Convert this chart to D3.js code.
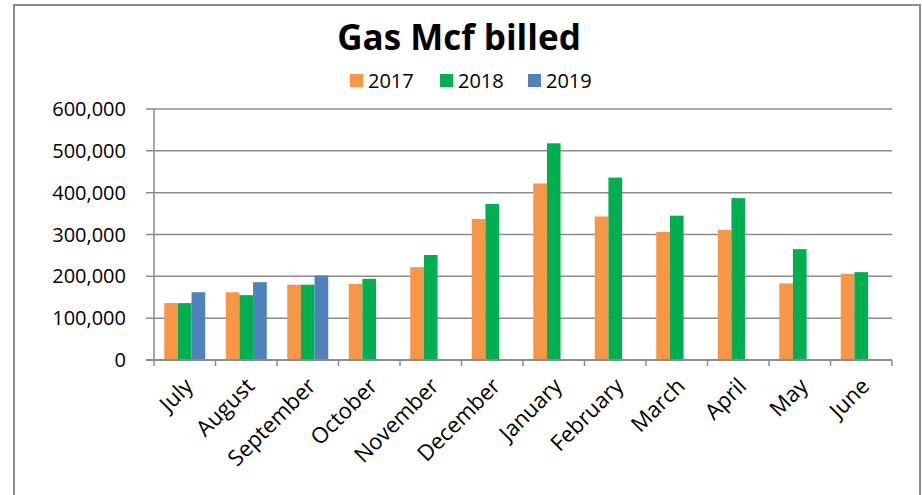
<!DOCTYPE html>
<html>
<head>
<meta charset="utf-8">
<script src="https://cdn.jsdelivr.net/npm/d3@7"></script>
<style>
  body { margin: 0; background: #fff; }
  text { font-family: "Open Sans", sans-serif; fill: #000; }
</style>
</head>
<body>
<svg id="chart"></svg>
<script>
const MONTHS = ['July', 'August', 'September', 'October', 'November', 'December',
    'January', 'February', 'March', 'April', 'May', 'June']
const YEARS = ['2017', '2018', '2019']
const VALUES_2017 = [136000, 162000, 180000, 182000, 222000, 337000, 422000, 343000, 306000, 311000, 183000, 206000]
const VALUES_2018 = [136000, 155000, 180000, 194000, 251000, 373000, 518000, 436000, 345000, 387000, 265000, 210000]
const VALUES_2019 = [162000, 186000, 202000, null, null, null, null, null, null, null, null, null]
const Y_TICKS = [0, 100000, 200000, 300000, 400000, 500000, 600000]
const COLORS = ['#f79646', '#00b050', '#4f81bd']

const width = 922
const height = 495
const plot = { left: 154, right: 892, top: 109, bottom: 360 }

const svg = d3.select('#chart')
    .attr('width', width)
    .attr('height', height)

// frame around the chart
svg.append('rect')
    .attr('x', 14).attr('y', 5)
    .attr('width', 906).attr('height', 500)
    .attr('fill', 'none')
    .attr('stroke', '#8c8c8c')
    .attr('stroke-width', 2)

const x = d3.scaleBand()
    .domain(MONTHS)
    .range([plot.left, plot.right])
    .paddingInner(0)
    .paddingOuter(0)

// 150% gap width: 3 bars + 1.5 bar gap per band
const inner = d3.scaleBand()
    .domain(YEARS)
    .range([x.bandwidth() * 0.75 / 4.5, x.bandwidth() - x.bandwidth() * 0.75 / 4.5])

const y = d3.scaleLinear()
    .domain([0, 600000])
    .range([plot.bottom, plot.top])

// gridlines
svg.append('g')
    .selectAll('line')
    .data(Y_TICKS.slice(1))
    .enter().append('line')
    .attr('x1', plot.left - 8).attr('x2', plot.right)
    .attr('y1', d => y(d)).attr('y2', d => y(d))
    .attr('stroke', '#8c8c8c')
    .attr('stroke-width', 1.5)

// y labels
svg.append('g')
    .selectAll('text')
    .data(Y_TICKS)
    .enter().append('text')
    .attr('x', 126)
    .attr('y', d => y(d))
    .attr('dy', '0.35em')
    .attr('text-anchor', 'end')
    .style('font-size', '20px')
    .text(d => d3.format(',')(d))

// bars
const series = [VALUES_2017, VALUES_2018, VALUES_2019]
series.forEach((vals, si) => {
    svg.append('g')
        .selectAll('rect')
        .data(MONTHS.map((m, i) => ({ month: m, value: vals[i] })).filter(d => d.value != null))
        .enter().append('rect')
        .attr('x', d => x(d.month) + inner(YEARS[si]))
        .attr('width', inner.bandwidth())
        .attr('y', d => y(d.value))
        .attr('height', d => y(0) - y(d.value))
        .attr('fill', COLORS[si])
})

// axes lines
svg.append('line')
    .attr('x1', plot.left).attr('x2', plot.left)
    .attr('y1', plot.top).attr('y2', plot.bottom)
    .attr('stroke', '#8c8c8c').attr('stroke-width', 1.5)
svg.append('line')
    .attr('x1', plot.left - 8).attr('x2', plot.right)
    .attr('y1', plot.bottom).attr('y2', plot.bottom)
    .attr('stroke', '#8c8c8c').attr('stroke-width', 2)

// x tick marks at band edges
svg.append('g')
    .selectAll('line')
    .data(MONTHS.map(m => x(m)).concat([plot.right]))
    .enter().append('line')
    .attr('x1', d => d).attr('x2', d => d)
    .attr('y1', plot.bottom).attr('y2', plot.bottom + 6)
    .attr('stroke', '#8c8c8c').attr('stroke-width', 1.5)

// x labels
svg.append('g')
    .selectAll('text')
    .data(MONTHS)
    .enter().append('text')
    .attr('transform', d => `translate(${x(d) + x.bandwidth() / 2 + 4},${plot.bottom + 22}) rotate(-45)`)
    .attr('text-anchor', 'end')
    .attr('dy', '0.35em')
    .style('font-size', '22px')
    .text(d => d)

// title
svg.append('text')
    .attr('x', 459)
    .attr('y', 50)
    .attr('text-anchor', 'middle')
    .style('font-size', '35px')
    .style('font-weight', 'bold')
    .text('Gas Mcf billed')

// legend
const legendX = [350, 440, 528]
const legend = svg.append('g')
    .selectAll('g')
    .data(YEARS)
    .enter().append('g')
    .attr('transform', (d, i) => `translate(${legendX[i]},74)`)

legend.append('rect')
    .attr('width', 13).attr('height', 13)
    .attr('fill', (d, i) => COLORS[i])

legend.append('text')
    .attr('x', 18)
    .attr('y', 14)
    .style('font-size', '20px')
    .text(d => d)
</script>
</body>
</html>
